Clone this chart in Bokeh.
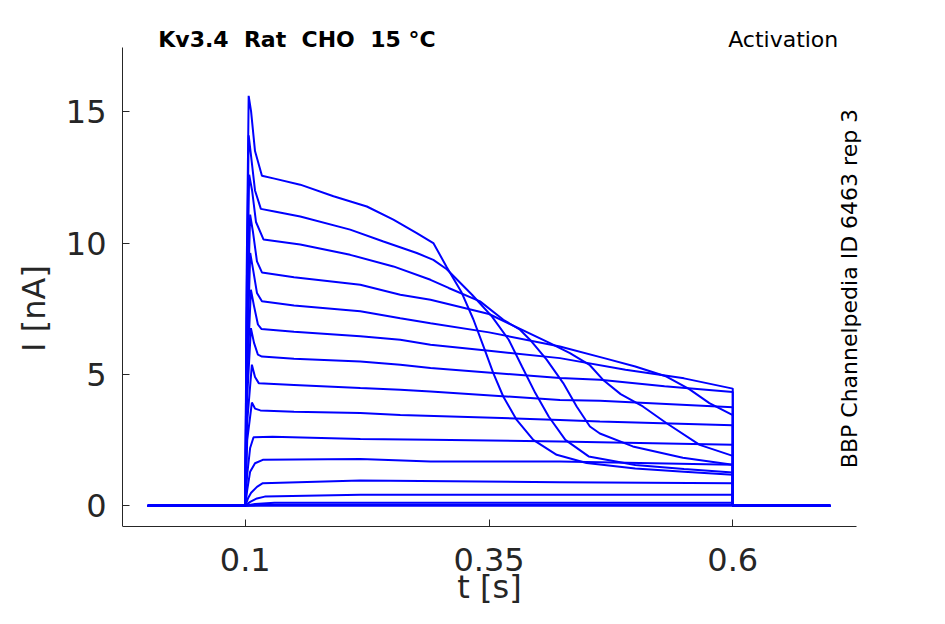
import math
from bokeh.plotting import figure
from bokeh.models import Range1d, Label, FixedTicker
from bokeh.embed import file_html
from bokeh.resources import INLINE

# ---- data (t in s, I in nA) ----
t_start, t_on, t_off, t_end = 0.0, 0.1, 0.6, 0.7

trace01 = [(0.1000, 0.0), (0.1015, 9.0), (0.1035, 15.6), (0.1060, 15.0), (0.1100, 13.5),
           (0.1171, 12.56), (0.1300, 12.45), (0.1564, 12.22), (0.1905, 11.78), (0.2247, 11.39),
           (0.2519, 10.89), (0.2759, 10.38), (0.2929, 10.00), (0.3067, 9.08), (0.3215, 8.15),
           (0.3339, 7.10), (0.3450, 6.00), (0.3544, 5.05), (0.3646, 4.16), (0.3784, 3.27),
           (0.3954, 2.51), (0.4194, 1.94), (0.4500, 1.63), (0.5000, 1.42), (0.5500, 1.30),
           (0.6000, 1.18)]
trace02 = [(0.1000, 0.0), (0.1015, 8.0), (0.1035, 14.1), (0.1060, 13.3), (0.1100, 12.0),
           (0.1160, 11.3), (0.1300, 11.2), (0.1564, 11.01), (0.2076, 10.51), (0.2417, 10.06),
           (0.2759, 9.62), (0.2929, 9.36), (0.3067, 9.00), (0.3326, 8.03), (0.3531, 7.20),
           (0.3702, 6.32), (0.3838, 5.30), (0.3975, 4.29), (0.4112, 3.40), (0.4283, 2.51),
           (0.4522, 1.88), (0.5000, 1.55), (0.5500, 1.40), (0.6000, 1.27)]
trace03 = [(0.1000, 0.0), (0.1015, 7.0), (0.1040, 12.6), (0.1070, 12.0), (0.1110, 10.8),
           (0.1188, 10.13), (0.1564, 9.94), (0.2076, 9.55), (0.2519, 9.11), (0.2900, 8.60),
           (0.3086, 8.29), (0.3408, 7.78), (0.3647, 7.08), (0.3818, 6.70), (0.3920, 6.32),
           (0.4091, 5.56), (0.4261, 4.67), (0.4399, 3.78), (0.4535, 3.02), (0.4637, 2.75),
           (0.4975, 2.26), (0.5488, 1.83), (0.6000, 1.56)]
trace04 = [(0.1000, 0.0), (0.1015, 6.0), (0.1050, 11.08), (0.1080, 10.4), (0.1120, 9.3),
           (0.1171, 8.88), (0.1500, 8.70), (0.2180, 8.41), (0.2590, 8.03), (0.2900, 7.84),
           (0.3500, 7.30), (0.4125, 6.19), (0.4330, 5.81), (0.4535, 5.35), (0.4668, 4.80),
           (0.4850, 4.25), (0.5078, 3.78), (0.5318, 3.15), (0.5660, 2.32), (0.6000, 1.90)]
trace05 = [(0.1000, 0.0), (0.1015, 5.0), (0.1051, 9.62), (0.1080, 9.0), (0.1120, 8.1),
           (0.1171, 7.78), (0.1500, 7.62), (0.2180, 7.40), (0.2590, 7.14), (0.2900, 6.95),
           (0.3500, 6.60), (0.4227, 6.06), (0.4700, 5.60), (0.5000, 5.30), (0.5320, 4.92),
           (0.5550, 4.45), (0.5760, 3.91), (0.6000, 3.45)]
trace06 = [(0.1000, 0.0), (0.1015, 4.5), (0.1058, 8.22), (0.1090, 7.6), (0.1130, 6.9),
           (0.1165, 6.73), (0.1500, 6.62), (0.2180, 6.45), (0.2590, 6.32), (0.2900, 6.13),
           (0.3500, 5.90), (0.4227, 5.62), (0.4900, 5.18), (0.5500, 4.85), (0.6000, 4.46)]
trace07 = [(0.1000, 0.0), (0.1015, 3.8), (0.1058, 6.76), (0.1090, 6.2), (0.1130, 5.75),
           (0.1171, 5.68), (0.1500, 5.60), (0.2180, 5.49), (0.2590, 5.37), (0.2900, 5.24),
           (0.4227, 4.86), (0.4637, 4.80), (0.5300, 4.55), (0.6000, 4.33)]
trace08 = [(0.1000, 0.0), (0.1020, 3.2), (0.1068, 5.37), (0.1100, 4.9), (0.1140, 4.66),
           (0.1500, 4.60), (0.2180, 4.48), (0.2590, 4.42), (0.2900, 4.35), (0.4227, 4.03),
           (0.4637, 4.00), (0.6000, 3.75)]
trace09 = [(0.1000, 0.0), (0.1020, 2.5), (0.1068, 3.93), (0.1100, 3.70), (0.1155, 3.63),
           (0.1500, 3.58), (0.2180, 3.53), (0.2590, 3.46), (0.4227, 3.27), (0.4637, 3.21),
           (0.6000, 3.07)]
trace10 = [(0.1000, 0.0), (0.1020, 1.2), (0.1050, 2.2), (0.1085, 2.61), (0.1280, 2.63),
           (0.2180, 2.54), (0.2900, 2.51), (0.4227, 2.45), (0.6000, 2.32)]
trace11 = [(0.1000, 0.0), (0.1020, 0.6), (0.1050, 1.30), (0.1100, 1.62), (0.1180, 1.75),
           (0.2180, 1.78), (0.2900, 1.69), (0.4227, 1.69), (0.6000, 1.56)]
trace12 = [(0.1000, 0.0), (0.1030, 0.30), (0.1060, 0.50), (0.1120, 0.72), (0.1180, 0.86),
           (0.2180, 0.96), (0.4227, 0.90), (0.6000, 0.86)]
trace13 = [(0.1000, 0.0), (0.1050, 0.15), (0.1120, 0.28), (0.1200, 0.35), (0.2180, 0.42),
           (0.6000, 0.42)]
trace14 = [(0.1000, 0.0), (0.1100, 0.07), (0.1300, 0.12), (0.6000, 0.12)]
trace15 = [(0.1000, 0.0), (0.1200, 0.04), (0.6000, 0.04)]
trace16 = [(0.1000, 0.0), (0.6000, 0.0)]

traces = [trace01, trace02, trace03, trace04, trace05, trace06, trace07, trace08,
          trace09, trace10, trace11, trace12, trace13, trace14, trace15, trace16]

x_tick_vals = [0.1, 0.35, 0.6]
x_tick_labels = ["0.1", "0.35", "0.6"]
y_tick_vals = [0, 5, 10, 15]

title_text = "Kv3.4\u00a0\u00a0Rat\u00a0\u00a0CHO\u00a0\u00a015\u00a0\u00b0C"
protocol_text = "Activation"
source_text = "BBP Channelpedia ID 6463 rep 3"

# ---- layout (pixels) ----
FONT = "DejaVu Sans"
AX = "#262626"
W, H = 929, 608
LEFT, TOP, RIGHT, BOTTOM = 122, 8, 29, 0
# visible axes box (matlab style): x -0.0259..0.7269, y -0.787..17.44
x_lo, x_hi = -0.0259, 0.7269
y_lo, y_hi = -0.787, 17.44
px_per_x = 975.0
px_per_y = 26.28
axes_right_px = 856
axes_top_px = 47
axes_bottom_px = 526
frame_right_px = W - RIGHT
x_end = x_hi + (frame_right_px - axes_right_px) / px_per_x
y_end = y_hi + (axes_top_px - TOP) / px_per_y
y_start = y_lo - (H - BOTTOM - axes_bottom_px) / px_per_y

p = figure(width=W, height=H, output_backend="svg", toolbar_location=None,
           x_range=Range1d(x_lo, x_end), y_range=Range1d(y_start, y_end),
           min_border_left=LEFT, min_border_top=TOP, min_border_right=RIGHT,
           min_border_bottom=BOTTOM)
p.outline_line_color = None
p.xgrid.visible = False
p.ygrid.visible = False
p.background_fill_color = "white"
p.border_fill_color = "white"

for tr in traces:
    ts = [t_start] + [a for a, b in tr] + [t_off, t_end]
    vs = [0.0] + [b for a, b in tr] + [0.0, 0.0]
    p.line(ts, vs, line_color="#0000ff", line_width=2)

p.xaxis.ticker = FixedTicker(ticks=x_tick_vals)
p.xaxis.major_label_overrides = {v: s for v, s in zip(x_tick_vals, x_tick_labels)}
p.yaxis.ticker = FixedTicker(ticks=y_tick_vals)
p.xaxis.bounds = (x_lo, x_hi)
p.yaxis.bounds = (y_lo, y_hi)
p.xaxis.fixed_location = y_lo
p.xaxis.axis_label = "t [s]"
p.yaxis.axis_label = "I [nA]"

for ax in (p.xaxis[0], p.yaxis[0]):
    ax.axis_line_color = AX
    ax.axis_line_width = 1
    ax.major_tick_line_color = AX
    ax.major_tick_in = 7
    ax.major_tick_out = 0
    ax.minor_tick_line_color = None
    ax.major_label_text_font = FONT
    ax.major_label_text_font_size = "32px"
    ax.major_label_text_color = AX
    ax.axis_label_text_font = FONT
    ax.axis_label_text_font_size = "32px"
    ax.axis_label_text_font_style = "normal"
    ax.axis_label_text_color = AX

p.xaxis.major_label_standoff = 21
p.xaxis.axis_label_standoff = -6
p.yaxis.major_label_standoff = 16
p.yaxis.axis_label_standoff = 10

def x_at(px):
    return 0.1 + (px - 245) / px_per_x

def y_at(py):
    return (505.3 - py) / px_per_y

p.add_layout(Label(x=x_at(158), y=y_at(39), text=title_text,
                   text_font=FONT, text_font_size="22px", text_font_style="bold",
                   text_color="black", text_align="left", text_baseline="alphabetic"))
p.add_layout(Label(x=x_at(838), y=y_at(39), text=protocol_text,
                   text_font=FONT, text_font_size="22px", text_color="black",
                   text_align="right", text_baseline="alphabetic"))
p.add_layout(Label(x=x_at(849), y=y_at(288), text=source_text,
                   angle=math.pi / 2, text_font=FONT, text_font_size="22px",
                   text_color="black", text_align="center", text_baseline="middle"))

open("out.html", "w").write(file_html(p, INLINE))
